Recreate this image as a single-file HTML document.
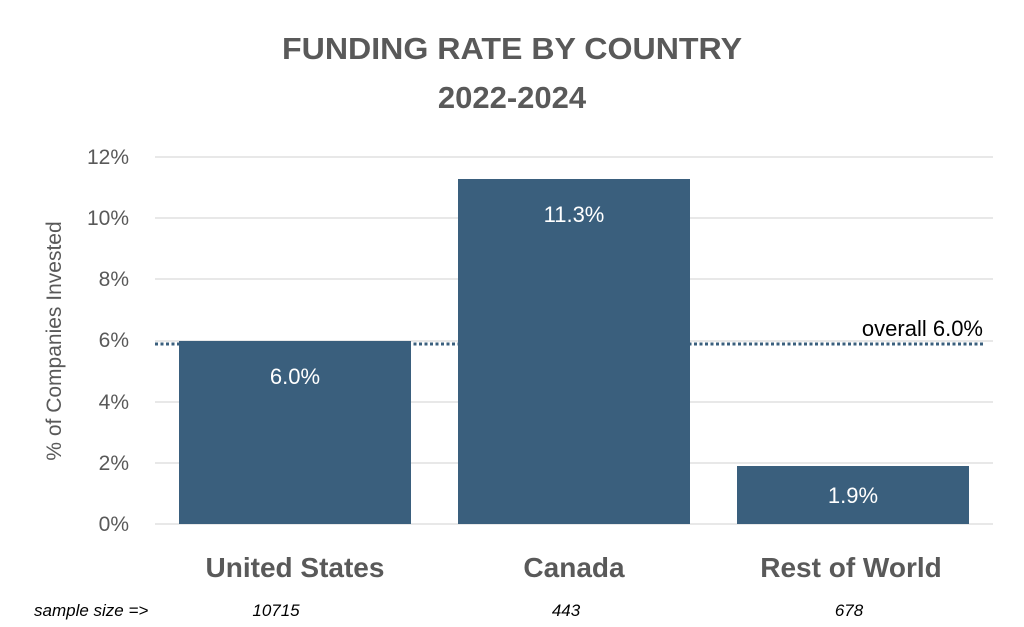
<!DOCTYPE html>
<html><head><style>
body{margin:0;background:#fff;}
</style></head><body>
<svg width="1024" height="627" xmlns="http://www.w3.org/2000/svg" style="display:block">
<rect width="1024" height="627" fill="#fff"/>
<g font-family="Liberation Sans, sans-serif">
<text x="512" y="59" text-anchor="middle" font-size="31" font-weight="bold" fill="#595959" textLength="460" lengthAdjust="spacingAndGlyphs">FUNDING RATE BY COUNTRY</text>
<text x="512" y="108" text-anchor="middle" font-size="31" font-weight="bold" fill="#595959">2022-2024</text>
<g stroke="#d9d9d9" stroke-width="1.3">
<line x1="155" x2="993" y1="157" y2="157"/>
<line x1="155" x2="993" y1="218" y2="218"/>
<line x1="155" x2="993" y1="279" y2="279"/>
<line x1="155" x2="993" y1="341" y2="341"/>
<line x1="155" x2="993" y1="402" y2="402"/>
<line x1="155" x2="993" y1="463" y2="463"/>
<line x1="155" x2="993" y1="524" y2="524"/>
</g>
<g font-size="21" fill="#595959" text-anchor="end">
<text x="129" y="164">12%</text>
<text x="129" y="225">10%</text>
<text x="129" y="286">8%</text>
<text x="129" y="347">6%</text>
<text x="129" y="409">4%</text>
<text x="129" y="470">2%</text>
<text x="129" y="531">0%</text>
</g>
<text transform="translate(61,341) rotate(-90)" text-anchor="middle" font-size="21" fill="#595959">% of Companies Invested</text>
<g fill="#3a5f7d">
<rect x="179" y="341" width="232" height="183"/>
<rect x="458" y="179" width="232" height="345"/>
<rect x="737" y="466" width="232" height="58"/>
</g>
<line x1="155" x2="985" y1="344" y2="344" stroke="#3a5f7d" stroke-width="3" stroke-dasharray="3,2.5"/>
<text x="983" y="336" text-anchor="end" font-size="22" fill="#000">overall 6.0%</text>
<g font-size="22" fill="#fff" text-anchor="middle">
<text x="295" y="384">6.0%</text>
<text x="574" y="222">11.3%</text>
<text x="853" y="503">1.9%</text>
</g>
<g font-size="28" font-weight="bold" fill="#595959" text-anchor="middle">
<text x="295" y="577">United States</text>
<text x="574" y="577">Canada</text>
<text x="851" y="577">Rest of World</text>
</g>
<g font-size="17" font-style="italic" fill="#000">
<text x="34" y="616">sample size =&gt;</text>
<text x="276" y="616" text-anchor="middle">10715</text>
<text x="566" y="616" text-anchor="middle">443</text>
<text x="849" y="616" text-anchor="middle">678</text>
</g>
</g>
</svg>
</body></html>
